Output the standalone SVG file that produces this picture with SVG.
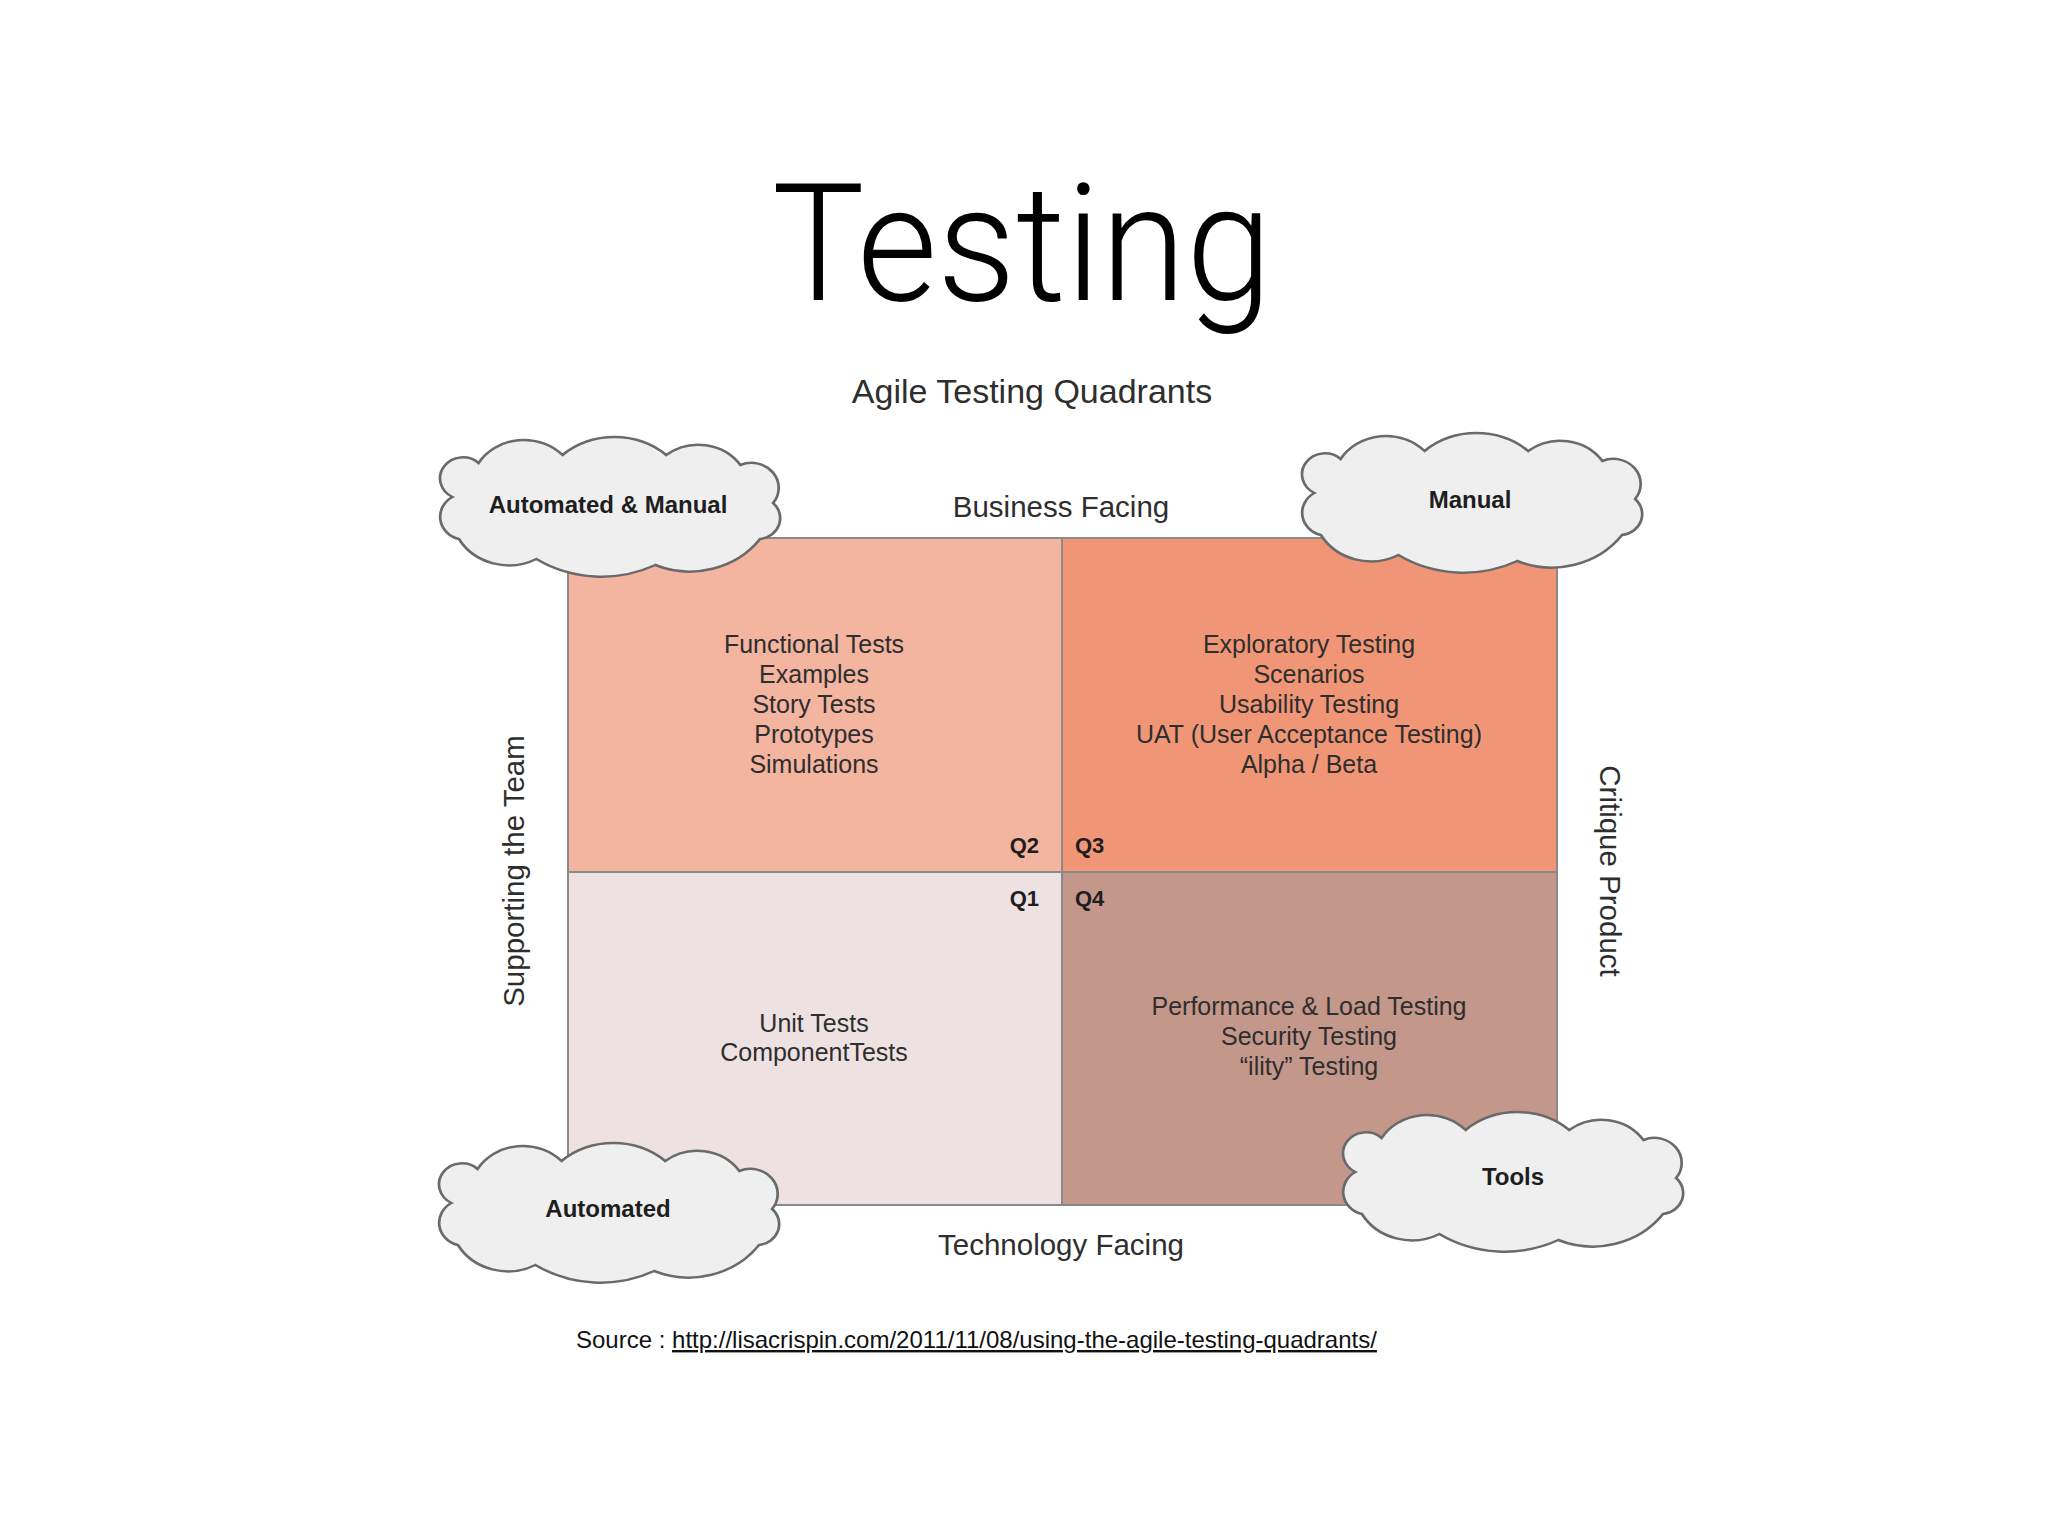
<svg xmlns="http://www.w3.org/2000/svg" xmlns:xlink="http://www.w3.org/1999/xlink" width="2048" height="1536" viewBox="0 0 2048 1536">
<defs>
<style>
.t{font-family:"Liberation Sans",Arial,sans-serif;fill:#2e2e2e;}
.q{font-size:25px;text-anchor:middle;}
.ax{font-size:29.5px;text-anchor:middle;}
.ql{font-size:22px;font-weight:bold;fill:#1e1e1e;}
.cl{font-size:24px;font-weight:bold;text-anchor:middle;fill:#1e1e1e;}
.quad{stroke:#8a8a8a;stroke-width:2;}
.cloud{fill:#efefef;stroke:#6a6a6a;stroke-width:2.5;}
</style>
<path id="cloudShape" class="cloud" transform="translate(-16,0) scale(1.091,1)" d="M26,60 A21,21 0 1,1 50,26 A49,49 0 0,1 127,18 A72,72 0 0,1 222,18 A47,47 0 0,1 290,28 A25,25 0 0,1 320,66 A21,21 0 0,1 308,102 A80,80 0 0,1 212,128 A110,110 0 0,1 103,122 A53,53 0 0,1 32,102 A23,23 0 0,1 26,60 Z"/>
</defs>
<rect width="2048" height="1536" fill="#ffffff"/>

<g id="title">
<text x="1022" y="300" font-family="Roboto,'Liberation Sans',sans-serif" font-weight="300" font-size="163" text-anchor="middle" textLength="500" lengthAdjust="spacingAndGlyphs" fill="#000">Testing</text>
</g>
<g id="subtitle">
<text class="t" x="1032" y="403" font-size="34" text-anchor="middle">Agile Testing Quadrants</text>
</g>

<g id="q2">
<rect class="quad" x="568" y="538" width="494" height="334" fill="#f3b4a0"/>
<text class="t q" x="814" y="653">Functional Tests</text>
<text class="t q" x="814" y="683">Examples</text>
<text class="t q" x="814" y="713">Story Tests</text>
<text class="t q" x="814" y="743">Prototypes</text>
<text class="t q" x="814" y="773">Simulations</text>
<text class="t ql" x="1039" y="853" text-anchor="end">Q2</text>
</g>
<g id="q3">
<rect class="quad" x="1062" y="538" width="495" height="334" fill="#f09676"/>
<text class="t q" x="1309" y="653">Exploratory Testing</text>
<text class="t q" x="1309" y="683">Scenarios</text>
<text class="t q" x="1309" y="713">Usability Testing</text>
<text class="t q" x="1309" y="743">UAT (User Acceptance Testing)</text>
<text class="t q" x="1309" y="773">Alpha / Beta</text>
<text class="t ql" x="1075" y="853">Q3</text>
</g>
<g id="q1">
<rect class="quad" x="568" y="872" width="494" height="333" fill="#ede1e1"/>
<text class="t q" x="814" y="1032">Unit Tests</text>
<text class="t q" x="814" y="1061">ComponentTests</text>
<text class="t ql" x="1039" y="906" text-anchor="end">Q1</text>
</g>
<g id="q4">
<rect class="quad" x="1062" y="872" width="495" height="333" fill="#c4978b"/>
<text class="t q" x="1309" y="1015">Performance &amp; Load Testing</text>
<text class="t q" x="1309" y="1045">Security Testing</text>
<text class="t q" x="1309" y="1075">“ility” Testing</text>
<text class="t ql" x="1075" y="906">Q4</text>
</g>

<g id="axis-labels">
<text class="t ax" x="1061" y="517">Business Facing</text>
<text class="t ax" x="1061" y="1255">Technology Facing</text>
<text class="t ax" transform="translate(524,871) rotate(-90)">Supporting the Team</text>
<text class="t ax" transform="translate(1600,871) rotate(90)">Critique Product</text>
</g>

<g id="cloud-automated-manual">
<use xlink:href="#cloudShape" href="#cloudShape" transform="translate(440,437)"/>
<text class="t cl" x="608" y="513">Automated &amp; Manual</text>
</g>
<g id="cloud-manual">
<use xlink:href="#cloudShape" href="#cloudShape" transform="translate(1302,433)"/>
<text class="t cl" x="1470" y="508">Manual</text>
</g>
<g id="cloud-automated">
<use xlink:href="#cloudShape" href="#cloudShape" transform="translate(439,1143)"/>
<text class="t cl" x="608" y="1217">Automated</text>
</g>
<g id="cloud-tools">
<use xlink:href="#cloudShape" href="#cloudShape" transform="translate(1343,1112)"/>
<text class="t cl" x="1513" y="1185">Tools</text>
</g>

<g id="connectors"></g>

<g id="source">
<text x="576" y="1348" font-family="'Liberation Sans',Arial,sans-serif" font-size="24" fill="#111">Source : <tspan text-decoration="underline">http://lisacrispin.com/2011/11/08/using-the-agile-testing-quadrants/</tspan></text>
</g>
</svg>
